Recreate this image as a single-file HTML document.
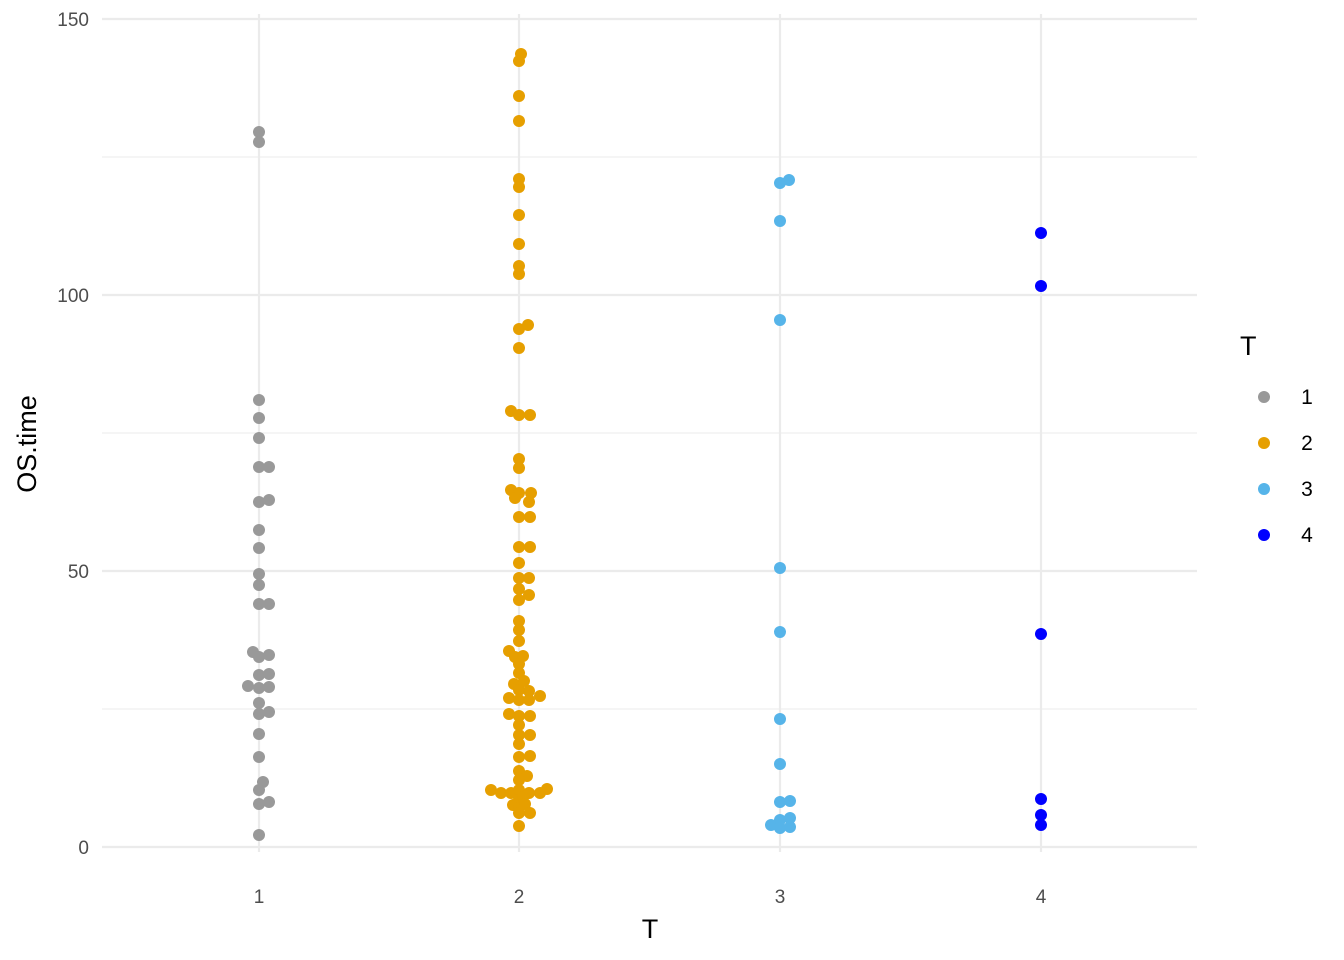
<!DOCTYPE html>
<html><head><style>body{margin:0;background:#fff}svg{display:block}</style></head><body>
<svg width="1344" height="960" xmlns="http://www.w3.org/2000/svg" font-family="Liberation Sans, sans-serif">
<rect width="1344" height="960" fill="#fff"/>
<g stroke="#ebebeb" stroke-width="1.1">
<line x1="102" x2="1197" y1="157" y2="157"/><line x1="102" x2="1197" y1="433" y2="433"/><line x1="102" x2="1197" y1="709" y2="709"/>
</g>
<g stroke="#ebebeb" stroke-width="2.2">
<line x1="102" x2="1197" y1="19" y2="19"/><line x1="102" x2="1197" y1="295" y2="295"/><line x1="102" x2="1197" y1="571" y2="571"/><line x1="102" x2="1197" y1="847" y2="847"/>
<line x1="259" x2="259" y1="14" y2="852"/><line x1="519" x2="519" y1="14" y2="852"/><line x1="780" x2="780" y1="14" y2="852"/><line x1="1041" x2="1041" y1="14" y2="852"/>
</g>
<g fill="#4d4d4d" font-size="19" text-anchor="end">
<text x="89" y="26">150</text><text x="89" y="302">100</text><text x="89" y="578">50</text><text x="89" y="854">0</text>
</g>
<g fill="#4d4d4d" font-size="19" text-anchor="middle">
<text x="259" y="903">1</text><text x="519" y="903">2</text><text x="780" y="903">3</text><text x="1041" y="903">4</text>
</g>
<text x="650" y="938" font-size="27" text-anchor="middle">T</text>
<text transform="translate(36,444) rotate(-90)" font-size="27" text-anchor="middle">OS.time</text>
<g id="pts"></g>
<text x="1240" y="355" font-size="27">T</text>
<circle cx="1264" cy="397" r="6" fill="#999999"/><circle cx="1264" cy="443" r="6" fill="#E69F00"/><circle cx="1264" cy="489" r="6" fill="#56B4E9"/><circle cx="1264" cy="535" r="6" fill="#0000FF"/>
<g font-size="21" text-anchor="middle"><text x="1307" y="404">1</text><text x="1307" y="450">2</text><text x="1307" y="496">3</text><text x="1307" y="542">4</text></g>
</svg>
<script>
var d={"#999999":"259,132;259,142;259,400;259,418;259,438;259,467;269,467;259,502;269,500;259,530;259,548;259,574;259,585;259,604;269,604;253,652;259,657;269,655;259,675;269,674;248,686;259,688;269,687;259,703;259,714;269,712;259,734;259,757;263,782;259,790;259,804;269,802;259,835",
"#E69F00":"521,54;519,61;519,96;519,121;519,179;519,187;519,215;519,244;519,266;519,274;519,329;528,325;519,348;511,411;519,415;530,415;519,459;519,468;511,490;519,493;531,493;515,498;529,502;519,517;530,517;519,547;530,547;519,563;519,578;529,578;519,589;529,595;519,600;519,621;519,630;519,641;509,651;515,657;523,656;519,664;519,673;514,684;524,681;519,690;529,691;509,698;519,700;540,696;529,700;509,714;519,716;530,716;519,725;519,735;530,735;519,744;519,757;530,756;519,771;527,776;519,780;491,790;501,793;511,793;519,790;529,793;547,789;540,793;519,800;523,797;513,805;519,808;525,804;519,813;530,813;519,826",
"#56B4E9":"780,183;789,180;780,221;780,320;780,568;780,632;780,719;780,764;780,802;790,801;771,825;780,820;790,818;780,828;790,827",
"#0000FF":"1041,233;1041,286;1041,634;1041,799;1041,815;1041,825"};
var g=document.getElementById("pts"),s="";
for(var c in d){d[c].split(";").forEach(function(p){var a=p.split(",");s+='<circle cx="'+a[0]+'" cy="'+a[1]+'" r="6" fill="'+c+'"/>';});}
g.innerHTML=s;
</script>
</body></html>
